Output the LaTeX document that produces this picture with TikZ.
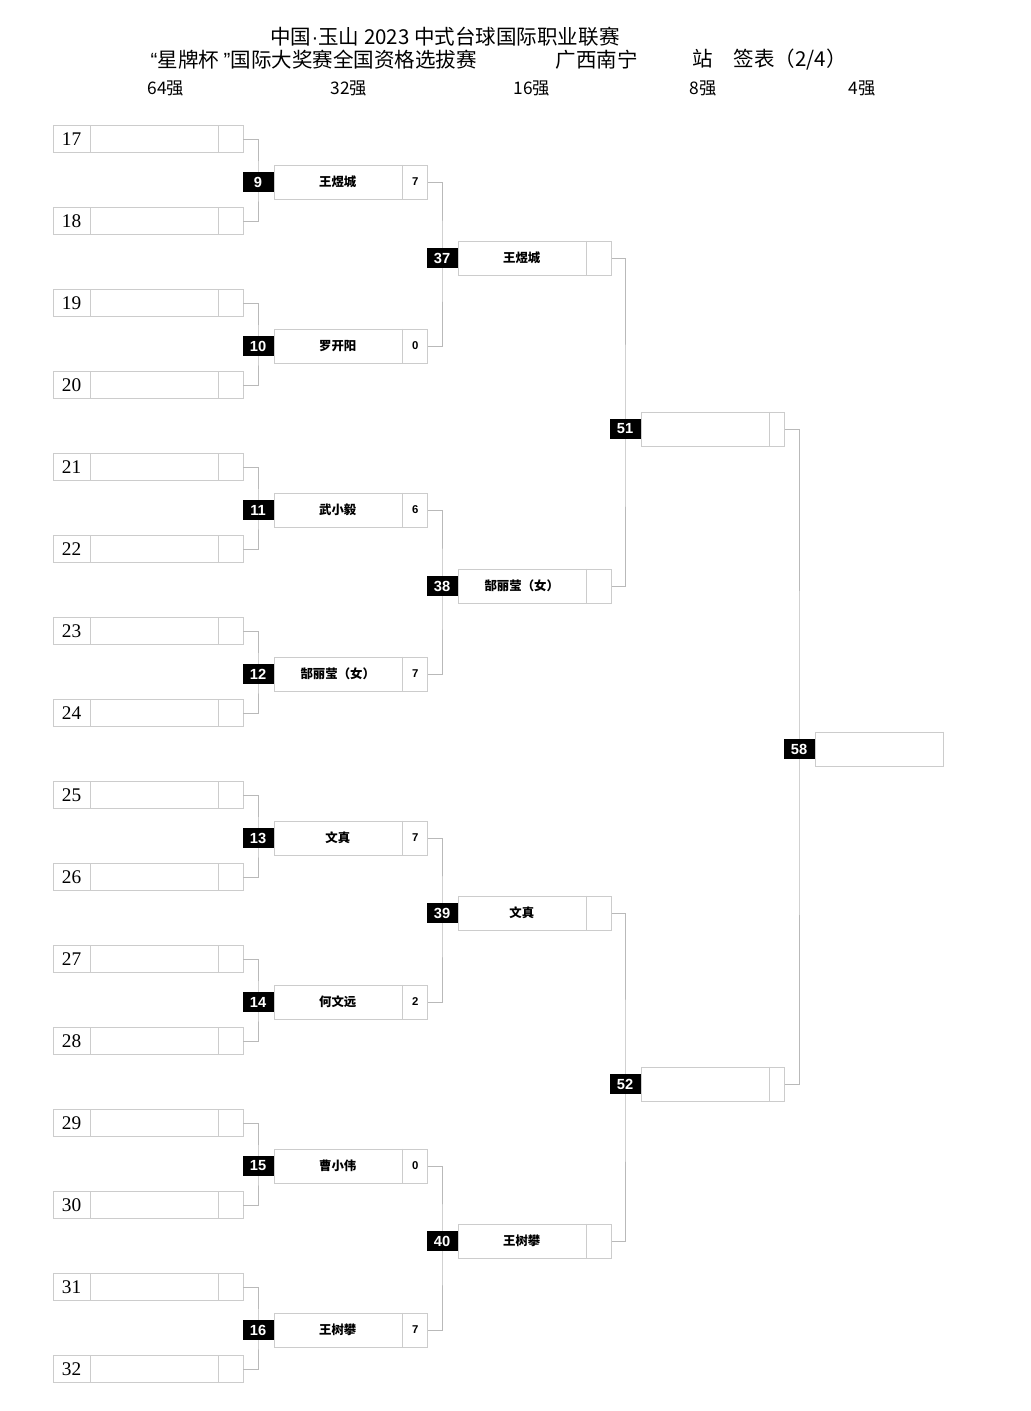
\documentclass[tikz,border=0pt]{standalone}
\usepackage{fontspec}
\setmainfont{Liberation Serif}
\setsansfont{Liberation Sans}
\newfontfamily\cjk{Noto Sans CJK SC}
\usetikzlibrary{positioning}

\tikzset{
  linea/.style={draw=gray!55, line width=0.7pt},
  borde/.style={draw=gray!40, line width=0.7pt},
  casilla/.style={borde, inner sep=0pt, minimum height=25.5pt},
  etiqueta/.style={fill=black, text=white, inner sep=0pt, minimum width=23.25pt,
    minimum height=15.5pt, font=\sffamily\bfseries\fontsize{11}{11}\selectfont},
  nombre/.style={font=\cjk\bfseries\fontsize{9.3}{9.3}\selectfont},
  tanteo/.style={font=\sffamily\bfseries\fontsize{8.5}{8.5}\selectfont},
  cabecera/.style={font=\cjk\fontsize{15.4}{15.4}\selectfont},
}

\begin{document}
\begin{tikzpicture}[x=0.75pt, y=-0.75pt]
  \useasboundingbox (0,0) rectangle (1031,1411);
  % cabecera
  \node[cabecera] (titulo) at (445,37) {中国{\sffamily ·}玉山 2023 中式台球国际职业联赛};
  \node[cabecera, anchor=west] (torneo) at (146,60) {{\sffamily“}星牌杯 {\sffamily”}国际大奖赛全国资格选拔赛};
  \node[cabecera, anchor=west] (sede) at (551,60) {广西南宁};
  \node[cabecera, anchor=west] (hoja) at (688,60) {站\quad 签表（2/4）};
  \foreach \r/\x in {64/166,32/349,16/532,8/703,4/862}
    \node[font=\cjk\fontsize{13}{13}\selectfont] (ronda\r) at (\x,88) {\r 强};
  % primera ronda
  \foreach \n in {17,...,32} {
    \pgfmathsetmacro\yy{139+82*(\n-17)}
    \node[casilla, minimum width=142.5pt, minimum height=20.25pt] (p\n) at (148,\yy) {};
    \draw[borde] ([xshift=28.5pt]p\n.north west) -- ([xshift=28.5pt]p\n.south west)
      ([xshift=-18.75pt]p\n.north east) -- ([xshift=-18.75pt]p\n.south east);
    \node[font=\fontsize{14.5}{14.5}\selectfont] at ([xshift=14.25pt]p\n.west) {\n};
  }
  % 32 fuertes
  \foreach \m/\nom/\pts [count=\k from 0] in {9/王煜城/7, 10/罗开阳/0, 11/武小毅/6,
      12/郜丽莹（女）/7, 13/文真/7, 14/何文远/2, 15/曹小伟/0, 16/王树攀/7} {
    \pgfmathsetmacro\yy{182+164*\k}
    \pgfmathtruncatemacro\a{2*\m-1}
    \pgfmathtruncatemacro\b{2*\m}
    \coordinate (c\m) at (258,\yy);
    \draw[linea] (p\a.east) -| (c\m) |- (p\b.east);
    \node[etiqueta] (m\m) at (c\m) {\m};
    \node[casilla, minimum width=114.75pt, right=0pt of m\m] (g\m) {};
    \draw[borde] ([xshift=-18.75pt]g\m.north east) -- ([xshift=-18.75pt]g\m.south east);
    \node[nombre] at ([xshift=48pt]g\m.west) {\nom};
    \node[tanteo] at ([xshift=-9.375pt]g\m.east) {\pts};
  }
  % 16, 8 y 4 fuertes
  \foreach \m/\a/\b/\x/\y/\w/\s/\nom in {37/9/10/442/258/114.75/18.75/王煜城,
      38/11/12/442/586/114.75/18.75/郜丽莹（女）, 39/13/14/442/913/114.75/18.75/文真,
      40/15/16/442/1241/114.75/18.75/王树攀, 51/37/38/625/429/107.25/11.25/{},
      52/39/40/625/1084/107.25/11.25/{}, 58/51/52/799/749/96/0/{}} {
    \coordinate (c\m) at (\x,\y);
    \draw[linea] (g\a.east) -| (c\m) |- (g\b.east);
    \node[etiqueta] (m\m) at (c\m) {\m};
    \node[casilla, minimum width=\w pt, right=0pt of m\m] (g\m) {};
    \draw[borde] ([xshift=-\s pt]g\m.north east) -- ([xshift=-\s pt]g\m.south east);
    \node[nombre] at ([xshift={(\w-\s)/2*1pt}]g\m.west) {\nom};
  }
\end{tikzpicture}
\end{document}
